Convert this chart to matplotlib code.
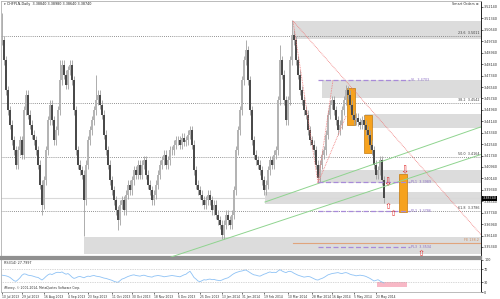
import numpy as np
import matplotlib
matplotlib.use('Agg')
import matplotlib.pyplot as plt
from matplotlib.patches import Rectangle

# daily closes, CHFPLN
closes = [3.498, 3.484, 3.463, 3.449, 3.439, 3.428, 3.421, 3.411, 3.421, 3.428, 3.418, 3.449, 3.460, 3.446, 3.439, 3.432,
          3.428, 3.421, 3.411, 3.397, 3.383, 3.400, 3.421, 3.442, 3.453, 3.442, 3.428, 3.435, 3.449, 3.470, 3.481, 3.474,
          3.467, 3.477, 3.481, 3.470, 3.449, 3.421, 3.411, 3.407, 3.404, 3.386, 3.411, 3.428, 3.435, 3.442, 3.449, 3.456,
          3.460, 3.453, 3.446, 3.432, 3.421, 3.411, 3.400, 3.393, 3.386, 3.379, 3.372, 3.383, 3.386, 3.379, 3.390, 3.397,
          3.393, 3.400, 3.407, 3.404, 3.411, 3.404, 3.411, 3.414, 3.404, 3.397, 3.393, 3.386, 3.390, 3.397, 3.404, 3.411,
          3.414, 3.418, 3.411, 3.414, 3.421, 3.421, 3.425, 3.428, 3.428, 3.425, 3.430, 3.427, 3.428, 3.432, 3.435, 3.425,
          3.407, 3.397, 3.393, 3.390, 3.386, 3.383, 3.386, 3.390, 3.386, 3.379, 3.383, 3.376, 3.372, 3.369, 3.362, 3.369,
          3.376, 3.372, 3.369, 3.376, 3.393, 3.421, 3.435, 3.449, 3.470, 3.484, 3.491, 3.470, 3.449, 3.428, 3.418, 3.414,
          3.411, 3.407, 3.400, 3.393, 3.397, 3.407, 3.414, 3.411, 3.418, 3.421, 3.456, 3.484, 3.474, 3.456, 3.442, 3.456,
          3.484, 3.502, 3.498, 3.484, 3.474, 3.463, 3.456, 3.449, 3.446, 3.435, 3.428, 3.425, 3.421, 3.411, 3.402, 3.411,
          3.418, 3.421, 3.432, 3.446, 3.453, 3.456, 3.449, 3.442, 3.435, 3.439, 3.449, 3.456, 3.463, 3.460, 3.453, 3.446,
          3.442, 3.444, 3.441, 3.439, 3.442, 3.439, 3.435, 3.432, 3.425, 3.421, 3.411, 3.404, 3.407, 3.414, 3.400, 3.3874]

# long wicks
spike_high = {0: 3.517, 29: 3.484, 47: 3.474, 122: 3.498, 139: 3.495, 145: 3.512, 172: 3.467}
spike_low = {20: 3.376, 41: 3.361, 58: 3.365, 110: 3.360, 158: 3.398}

rsi = [52, 51, 50, 48, 45, 40, 35, 33, 38, 44, 52, 56, 55, 52, 51, 50,
       48, 46, 45, 41, 37, 42, 48, 53, 56, 54, 57, 60, 61, 60, 62, 58,
       55, 57, 52, 46, 42, 44, 47, 48, 46, 44, 47, 49, 48, 50, 51, 49,
       48, 47, 45, 43, 42, 40, 38, 36, 33, 31, 30, 35, 40, 42, 45, 48,
       50, 52, 53, 51, 50, 49, 51, 52, 50, 48, 47, 46, 49, 50, 51, 50,
       49, 47, 48, 49, 50, 51, 50, 49, 48, 47, 50, 53, 55, 60, 64, 55,
       45, 40, 34, 32, 35, 38, 37, 39, 40, 38, 39, 37, 36, 35, 37, 40,
       42, 44, 48, 53, 57, 60, 62, 64, 65, 67, 68, 64, 60, 56, 53, 52,
       50, 49, 52, 55, 57, 60, 62, 60, 61, 60, 65, 69, 65, 62, 60, 63,
       64, 62, 58, 55, 52, 50, 48, 46, 47, 48, 47, 44, 41, 38, 37, 40,
       42, 45, 49, 53, 55, 57, 58, 59, 60, 58, 57, 59, 60, 58, 55, 53,
       52, 50, 51, 52, 51, 50, 48, 45, 42, 38, 34, 36, 38, 34, 31, 27.8]

price_ticks = [3.52140, 3.51340, 3.50540, 3.49740, 3.48940, 3.48140, 3.47340, 3.46540, 3.45740, 3.44940, 3.44140,
               3.43340, 3.42540, 3.41740, 3.40940, 3.40140, 3.39340, 3.38540, 3.37740, 3.36940, 3.36140, 3.35340]
date_pos = [0, 10, 21, 33, 43, 55, 65, 76, 88, 99, 110, 120, 131, 143, 155, 165, 176, 187]
date_labels = ['10 Jul 2013', '29 Jul 2013', '16 Aug 2013', '4 Sep 2013', '23 Sep 2013', '11 Oct 2013',
               '30 Oct 2013', '18 Nov 2013', '6 Dec 2013', '25 Dec 2013', '13 Jan 2014', '31 Jan 2014',
               '19 Feb 2014', '10 Mar 2014', '28 Mar 2014', '16 Apr 2014', '5 May 2014', '23 May 2014']

fib_levels = [('23.6', 3.5011), ('38.2', 3.4542), ('50.0', 3.4164), ('61.8', 3.3786)]
zones = [(145.5, 3.4990, 3.5116), (160, 3.4577, 3.4703), (181.5, 3.4367, 3.4465),
         (158, 3.3982, 3.4073), (131.5, 3.3835, 3.3919), (41, 3.3485, 3.3604)]
purple_levels = [('SL', 3.4703), ('PL1', 3.3989), ('PL2', 3.3786), ('PL3', 3.3534)]
fe_level = 3.3562
boxes = [(172.5, 176.5, 3.4388, 3.4647), (181, 185, 3.4192, 3.4458), (198.5, 202.5, 3.3779, 3.4045)]
arrows_down = [(201, 3.4073), (192.5, 3.3989)]
arrows_up = [(193, 3.3821), (195.5, 3.3765), (209.5, 3.3487)]

XMAX = 239.5
FS = 2.4
fig = plt.figure(figsize=(5, 2.99), dpi=100)
ax = fig.add_axes([0.002, 1 - 257 / 299, 0.960, 256 / 299])
ax2 = fig.add_axes([0.002, 1 - 292 / 299, 0.960, 33 / 299])

# zones
for x0, lo, hi in zones:
    ax.add_patch(Rectangle((x0, lo), XMAX - x0, hi - lo, color='#dcdcdc', lw=0, zorder=1))
ax.axhline(closes[-1], color='#d9d9d9', lw=0.8, zorder=1)

for name, lv in fib_levels:
    ax.axhline(lv, color='#707070', lw=0.6, ls=(0, (1, 1.5)), zorder=2)
    ax.text(XMAX - 1, lv + 0.0005, '%s  %.4f' % (name, lv), fontsize=FS, color='#404040',
            ha='right', va='bottom', zorder=6)

for x0, x1, lo, hi in boxes:
    ax.add_patch(Rectangle((x0, lo), x1 - x0, hi - lo, facecolor='#f6a21e', edgecolor='#c27a10',
                           lw=0.5, zorder=2))

# candles
idx = np.arange(len(closes))
opens = [closes[0]] + closes[:-1]
pad = 0.003
for i in idx:
    o, c = opens[i], closes[i]
    hi = max(max(o, c) + pad, spike_high.get(i, 0))
    lo = min(min(o, c) - pad, spike_low.get(i, 9))
    ax.vlines(i, lo, hi, color='#a0a0a0', lw=0.6, zorder=3)
    col = '#b4b4b4' if c >= o else '#4a4a4a'
    ax.bar(i, max(abs(c - o), 0.0006), bottom=min(o, c), width=0.75, color=col, lw=0, zorder=4)

# trend lines
ax.axline((81.5, 3.3450), (241.5, 3.4191), color='#8fd48f', lw=0.7, zorder=5)
ax.plot([131.5, XMAX], [3.3849, 3.4375], color='#8fd48f', lw=0.7, zorder=5)
red = dict(color='#f07a7a', lw=0.6, ls=(0, (1, 1)), zorder=5)
ax.plot([145.5, XMAX], [3.5116, 3.3620], **red)
ax.plot([145.5, 158], [3.5116, 3.3982], **red)
ax.plot([158, 165.5], [3.3982, 3.4703], **red)
ax.plot([158, 172], [3.3982, 3.4450], **red)

for name, lv in purple_levels:
    ax.plot([158, 204], [lv, lv], color='#a88bd8', lw=0.9, ls=(0, (4, 2)), zorder=5)
    ax.text(204.5, lv, '%s  %.4f' % (name, lv), fontsize=FS, color='#8a6cc4', va='center', zorder=6)
ax.plot([145.5, XMAX], [fe_level, fe_level], color='#e0a47c', lw=0.8, zorder=5)
ax.text(XMAX - 1, fe_level + 0.0004, 'FE 138.2', fontsize=FS, color='#d08a5a', ha='right', va='bottom',
        zorder=6)

for x, y in arrows_down:
    ax.text(x, y, '\u21e9', fontsize=7, color='#e02828', ha='center', va='center', zorder=7)
for x, y in arrows_up:
    ax.text(x, y, '\u21e7', fontsize=6, color='#e02828', ha='center', va='center', zorder=7)

ax.set_xlim(-0.5, XMAX)
ax.set_ylim(3.3464, 3.5256)
ax.set_xticks([])
ax.yaxis.tick_right()
ax.set_yticks(price_ticks)
ax.set_yticklabels(['%.5f' % v for v in price_ticks])
ax.tick_params(axis='y', labelsize=FS, length=1.5, width=0.5, pad=0.8, colors='#303030')
for s in ['left', 'top', 'bottom']:
    ax.spines[s].set_color('#b0b0b0')
    ax.spines[s].set_linewidth(0.6)
ax.spines['bottom'].set_linewidth(1.6)
ax.spines['bottom'].set_color('#909090')
ax.spines['right'].set_linewidth(0.6)
ax.text(0.006, 0.995, '\u25be CHFPLN,Daily  3.38840 3.38980 3.38640 3.38740', transform=ax.transAxes,
        fontsize=FS, va='top', ha='left', color='#202020')
ax.text(0.995, 0.995, 'Smart Orders \u2299', transform=ax.transAxes, fontsize=FS, va='top', ha='right',
        color='#303030')
ax.text(1.003, closes[-1], '%.5f' % closes[-1], transform=ax.get_yaxis_transform(), fontsize=FS,
        color='white', va='center', ha='left', bbox=dict(facecolor='black', edgecolor='none', pad=0.3))

# RSI pane
ax2.plot(idx, rsi, color='#8ec2f5', lw=0.6)
ax2.add_patch(Rectangle((187.5, 14), 15, 16, color='#f8b8c6', lw=0))
for lv in (30, 70):
    ax2.axhline(lv, color='#b0b0b0', lw=0.5, ls=(0, (1, 1.5)))
ax2.set_xlim(-0.5, XMAX)
ax2.set_ylim(0, 102)
ax2.yaxis.tick_right()
ax2.set_yticks([0, 30, 70, 100])
ax2.set_yticklabels(['0', '30', '70', '100'])
ax2.tick_params(axis='y', labelsize=FS, length=1.5, width=0.5, pad=0.8, colors='#303030')
ax2.set_xticks(date_pos)
ax2.set_xticklabels(date_labels, ha='left')
ax2.tick_params(axis='x', labelsize=2.2, length=1.5, width=0.5, pad=1, colors='#303030')
for s in ['left', 'bottom']:
    ax2.spines[s].set_color('#b0b0b0')
    ax2.spines[s].set_linewidth(0.6)
ax2.spines['top'].set_color('#909090')
ax2.spines['top'].set_linewidth(1.6)
ax2.spines['right'].set_linewidth(0.6)
ax2.text(0.006, 0.95, 'RSI(14) 27.7997', transform=ax2.transAxes, fontsize=FS, va='top', color='#303030')
ax2.text(0.006, 0.05, 'iMoney, \u00a9 2001-2014, MetaQuotes Software Corp.', transform=ax2.transAxes,
         fontsize=2.2, va='bottom', color='#303030')

fig.savefig('out.png', dpi=100)
